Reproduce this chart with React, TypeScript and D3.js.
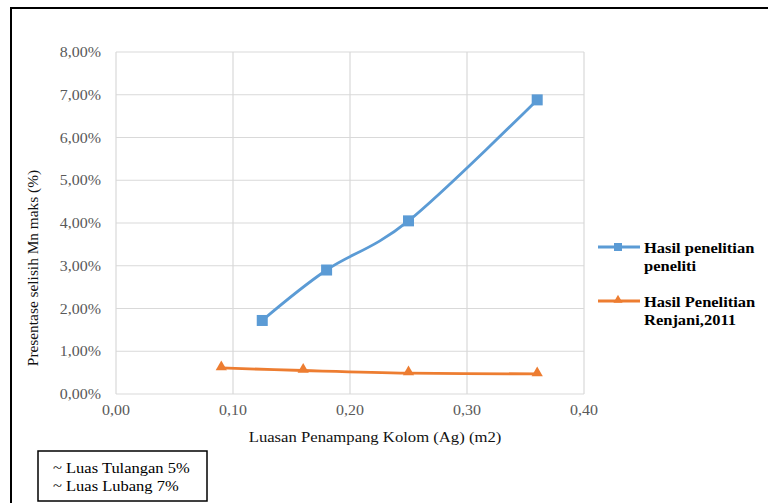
import * as d3 from "d3";

// data
const xTicks = [0, 0.1, 0.2, 0.3, 0.4];
const yTicks = [0, 0.01, 0.02, 0.03, 0.04, 0.05, 0.06, 0.07, 0.08];

const penelitiX = [0.125, 0.18, 0.25, 0.36];
const penelitiY = [0.0172, 0.029, 0.0405, 0.0688];

const renjaniX = [0.09, 0.16, 0.25, 0.36];
const renjaniY = [0.0061, 0.0055, 0.0049, 0.0047];

const seriesNames = [
  ["Hasil penelitian", "peneliti"],
  ["Hasil Penelitian", "Renjani,2011"],
];
const seriesColors = ["#5B9BD5", "#ED7D31"];
const noteLines = ["~ Luas Tulangan 5%", "~ Luas Lubang 7%"];

const W = 768;
const H = 503;
const plot = { left: 116, right: 584, top: 52, bottom: 394 };

const fmt = (v: number, d: number) => v.toFixed(d).replace(".", ",");

// the reference text is slightly stretched horizontally
const T = ({ x, y, sx = 1.1, rot = 0, children, ...rest }: any) => (
  <text transform={`translate(${x},${y}) rotate(${rot}) scale(${sx},1)`} {...rest}>
    {children}
  </text>
);

const App = () => {
  const x = d3.scaleLinear().domain([0, 0.4]).range([plot.left, plot.right]);
  const y = d3.scaleLinear().domain([0, 0.08]).range([plot.bottom, plot.top]);

  const line = d3
    .line<[number, number]>()
    .x((d) => x(d[0]))
    .y((d) => y(d[1]))
    .curve(d3.curveCardinal.tension(0));

  const blue = penelitiX.map((v, i) => [v, penelitiY[i]] as [number, number]);
  const orange = renjaniX.map((v, i) => [v, renjaniY[i]] as [number, number]);

  const font = "'Liberation Serif', 'Times New Roman', serif";
  const tri = d3.symbol(d3.symbolTriangle, 55)();

  return (
    <svg
      width={W}
      height={H}
      style={{ position: "absolute", left: 0, top: 0, background: "#fff" }}
      fontFamily={font}
    >
      {/* outer frame */}
      <path d={`M11,${H + 2}V8H${W + 2}`} fill="none" stroke="#000" strokeWidth={2} />

      {/* grid */}
      {yTicks.map((t) => (
        <line key={"gy" + t} x1={plot.left} x2={plot.right} y1={y(t)} y2={y(t)} stroke="#d9d9d9" strokeWidth={1.2} />
      ))}
      {xTicks.map((t) => (
        <line key={"gx" + t} x1={x(t)} x2={x(t)} y1={plot.top} y2={plot.bottom} stroke="#d9d9d9" strokeWidth={1.2} />
      ))}

      {/* tick labels */}
      {yTicks.map((t) => (
        <T key={"ty" + t} x={101} y={y(t) + 5} textAnchor="end" fontSize={14.5} fill="#595959">
          {fmt(t * 100, 2) + "%"}
        </T>
      ))}
      {xTicks.map((t) => (
        <T key={"tx" + t} x={x(t)} y={415} textAnchor="middle" fontSize={14.5} fill="#595959">
          {fmt(t, 2)}
        </T>
      ))}

      {/* axis titles */}
      <T x={375} y={442} sx={1.15} textAnchor="middle" fontSize={14.5} fill="#111">
        Luasan Penampang Kolom (Ag) (m2)
      </T>
      <T x={38} y={268} rot={-90} sx={1.06} textAnchor="middle" fontSize={14.5} fill="#111">
        Presentase selisih Mn maks (%)
      </T>

      {/* lines */}
      <path d={line(blue) || ""} fill="none" stroke={seriesColors[0]} strokeWidth={2.8} />
      <path d={line(orange) || ""} fill="none" stroke={seriesColors[1]} strokeWidth={2.8} />
      {blue.map((d, i) => (
        <rect key={"b" + i} x={x(d[0]) - 5.5} y={y(d[1]) - 5.5} width={11} height={11} fill={seriesColors[0]} />
      ))}
      {orange.map((d, i) => (
        <path key={"o" + i} d={tri || ""} transform={`translate(${x(d[0])},${y(d[1]) - 1})`} fill={seriesColors[1]} />
      ))}

      {/* legend */}
      {seriesNames.map((lines, i) => {
        const ly = 247 + i * 54;
        return (
          <g key={"lg" + i}>
            <line x1={598} x2={640} y1={ly} y2={ly} stroke={seriesColors[i]} strokeWidth={2.8} />
            {i === 0 ? (
              <rect x={614} y={ly - 4} width={8} height={8} fill={seriesColors[0]} />
            ) : (
              <path d={d3.symbol(d3.symbolTriangle, 36)() || ""} transform={`translate(618,${ly - 1})`} fill={seriesColors[1]} />
            )}
            {lines.map((s, j) => (
              <T key={j} x={644} y={ly + 6 + j * 18} fontSize={15} fontWeight="bold" fill="#000">
                {s}
              </T>
            ))}
          </g>
        );
      })}

      {/* note box */}
      <rect x={38} y={451} width={169} height={50} fill="#fff" stroke="#000" strokeWidth={1.5} />
      {noteLines.map((s, i) => (
        <T key={"n" + i} x={53} y={473 + i * 18} fontSize={15} fill="#000">
          {s}
        </T>
      ))}
    </svg>
  );
};

export default App;
